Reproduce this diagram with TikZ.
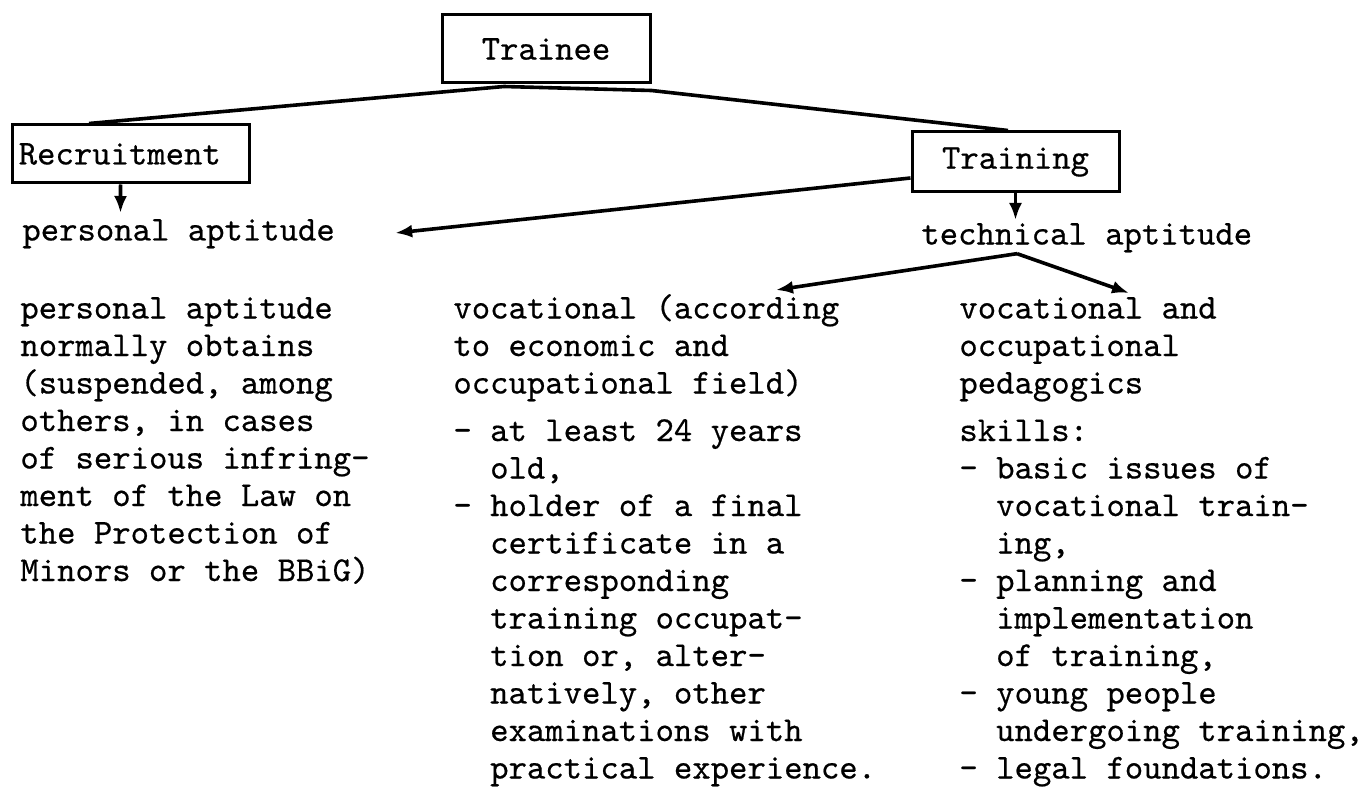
\documentclass[tikz,border=0pt]{standalone}
\usepackage{fontspec}
\newfontfamily\tw[FakeBold=0.5]{lmmono10-regular.otf}
\usetikzlibrary{arrows.meta}
\newlength{\dashind}
\setlength{\dashind}{18.4pt}
\newcommand{\dl}[1]{\makebox[\dashind][l]{-}#1}
\newcommand{\il}[1]{\hspace*{\dashind}#1}
\begin{document}
\begin{tikzpicture}[x=0.5pt,y=-0.5pt,
  every node/.style={font=\tw\fontsize{17.5}{18.75}\selectfont},
  box/.style={draw, line width=1.5pt, inner sep=0pt},
  txt/.style={inner sep=0pt, anchor=base west},
  conn/.style={line width=1.8pt, line join=round},
  arr/.style={line width=1.8pt, -{Latex[length=8.5pt,width=6.5pt]}}]
\useasboundingbox (0,0) rectangle (1369,791);
% boxes
\node[box, minimum width=104pt, minimum height=34pt] (tr) at (546,49) {Trainee};
\node[box, minimum width=118.25pt, minimum height=29pt, text width=112pt, align=left] (rec) at (130.75,154) {Recruitment};
\node[box, minimum width=103.5pt, minimum height=30pt] (tn) at (1015.5,162) {Training};
% labels
\node[txt] (pa) at (22,240.5) {personal aptitude};
\node[txt] (ta) at (921,244.5) {technical aptitude};
% columns
\node[txt] (c1) at (20,318.5) {\parbox[t]{240pt}{\raggedright
personal aptitude\\
normally obtains\\
(suspended, among\\
others, in cases\\
of serious infring-\\
ment of the Law on\\
the Protection of\\
Minors or the BBiG)}};
\node[txt] (c2) at (453,318.5) {\parbox[t]{240pt}{\raggedright
vocational (according\\
to economic and\\
occupational field)\\[5pt]
\dl{at least 24 years}\\
\il{old,}\\
\dl{holder of a final}\\
\il{certificate in a}\\
\il{corresponding}\\
\il{training occupat-}\\
\il{tion or, alter-}\\
\il{natively, other}\\
\il{examinations with}\\
\il{practical experience.}}};
\node[txt] (c3) at (959,318.5) {\parbox[t]{240pt}{\raggedright
vocational and\\
occupational\\
pedagogics\\[5pt]
skills:\\
\dl{basic issues of}\\
\il{vocational train-}\\
\il{ing,}\\
\dl{planning and}\\
\il{implementation}\\
\il{of training,}\\
\dl{young people}\\
\il{undergoing training,}\\
\dl{legal foundations.}}};
% connectors
\coordinate (j) at ([xshift=-21pt,yshift=-1pt]tr.south);
\coordinate (k) at ([yshift=-3pt]tr.south east);
\draw[conn] (j) -- ([xshift=-20.9pt]rec.north);
\draw[conn] (j) -- (k) -- ([xshift=-3.75pt]tn.north);
\draw[arr] ([xshift=-5.1pt]rec.south) -- ([xshift=49.25pt,yshift=13.75pt]pa.base west);
\draw[arr] ([yshift=-8pt]tn.west) -- ([xshift=30pt,yshift=3.75pt]pa.base east);
\draw[arr] (tn.south) -- ([yshift=12.25pt]tn.south |- ta.base);
\coordinate (tas) at ([xshift=48pt,yshift=-0.5pt]ta.south west);
\draw[arr] (tas) -- ([xshift=161.5pt,yshift=14.25pt]c2.base west);
\draw[arr] (tas) -- ([xshift=85pt,yshift=12.75pt]c3.base west);
\end{tikzpicture}
\end{document}
